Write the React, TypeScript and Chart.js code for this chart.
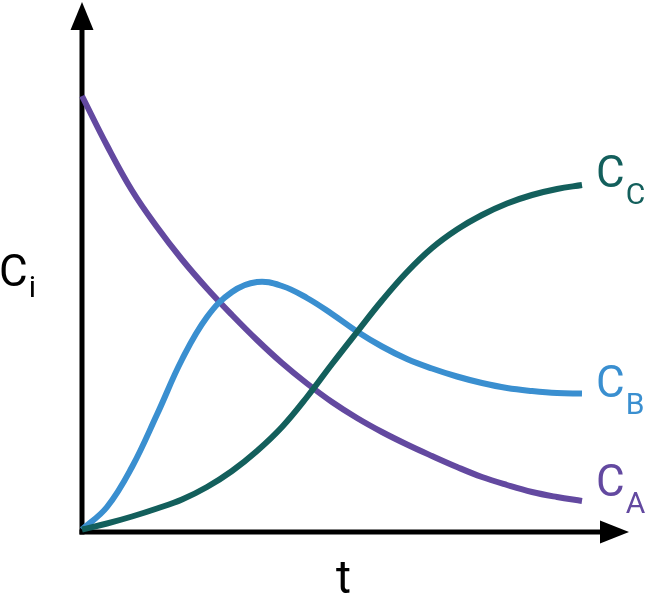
import React, { useEffect, useRef } from "react";
import { Chart, registerables } from "chart.js";

Chart.register(...registerables);

const times = [0, 0.5, 1, 1.5, 2, 2.5, 3, 3.5, 4, 4.5, 5, 5.5, 6, 6.5, 7, 7.5, 8, 8.5, 9, 9.5, 10];
const cA = [8.72, 7.73, 6.83, 6.1, 5.45, 4.87, 4.34, 3.84, 3.38, 2.97, 2.6, 2.28, 2.0, 1.75, 1.52, 1.3, 1.1, 0.94, 0.8, 0.7, 0.62];
const cB = [0.05, 0.5, 1.3, 2.35, 3.45, 4.3, 4.8, 5.0, 4.92, 4.68, 4.36, 4.01, 3.71, 3.46, 3.27, 3.11, 2.98, 2.88, 2.82, 2.78, 2.77];
const cC = [0.05, 0.17, 0.31, 0.47, 0.65, 0.9, 1.22, 1.62, 2.1, 2.7, 3.36, 4.0, 4.63, 5.2, 5.68, 6.05, 6.34, 6.57, 6.74, 6.86, 6.94];

const seriesNames = ["C", "C", "C"];
const seriesSubs = ["C", "B", "A"];
const colors = ["#135f5c", "#3a8fd0", "#6349a0"];
const yLabel = "C";
const yLabelSub = "i";
const xLabel = "t";

const FONT = "Roboto, 'DejaVu Sans', sans-serif";

const axesPlugin = {
  id: "arrowAxes",
  beforeDatasetsDraw(chart: any) {
    const { ctx, chartArea } = chart;
    const x0 = chartArea.left;
    const y0 = chartArea.bottom;
    ctx.save();
    ctx.strokeStyle = "#000";
    ctx.fillStyle = "#000";
    ctx.lineWidth = 5;
    ctx.lineCap = "butt";
    ctx.beginPath();
    ctx.moveTo(x0, y0 + 2.5);
    ctx.lineTo(x0, chartArea.top + 26);
    ctx.stroke();
    ctx.beginPath();
    ctx.moveTo(x0 - 2.5, y0);
    ctx.lineTo(chartArea.right - 30, y0);
    ctx.stroke();
    ctx.beginPath();
    ctx.moveTo(x0, chartArea.top);
    ctx.lineTo(x0 - 11.5, chartArea.top + 28);
    ctx.lineTo(x0 + 11.5, chartArea.top + 28);
    ctx.closePath();
    ctx.fill();
    const xr = chartArea.right - 3;
    ctx.beginPath();
    ctx.moveTo(xr, y0);
    ctx.lineTo(xr - 29, y0 - 11.5);
    ctx.lineTo(xr - 29, y0 + 11.5);
    ctx.closePath();
    ctx.fill();
    ctx.restore();
  },
  afterDraw(chart: any) {
    const { ctx, chartArea } = chart;
    const xs = chart.scales.x;
    const ys = chart.scales.y;
    ctx.save();
    ctx.textAlign = "left";
    ctx.textBaseline = "alphabetic";
    const ends = [cC[cC.length - 1], cB[cB.length - 1], cA[cA.length - 1]];
    const dy = [2, 3, -5];
    const xEnd = xs.getPixelForValue(times[times.length - 1]);
    ends.forEach((v, i) => {
      const yb = ys.getPixelForValue(v) + dy[i];
      ctx.fillStyle = colors[i];
      ctx.font = `44px ${FONT}`;
      ctx.fillText(seriesNames[i], xEnd + 14, yb);
      const w = ctx.measureText(seriesNames[i]).width;
      ctx.font = `30px ${FONT}`;
      ctx.fillText(seriesSubs[i], xEnd + 14 + w + 1, yb + 17);
    });
    ctx.fillStyle = "#000";
    ctx.font = `44px ${FONT}`;
    ctx.fillText(yLabel, chartArea.left - 83, 286);
    const w2 = ctx.measureText(yLabel).width;
    ctx.font = `30px ${FONT}`;
    ctx.fillText(yLabelSub, chartArea.left - 83 + w2 + 1, 297);
    ctx.font = `46px ${FONT}`;
    ctx.fillText(xLabel, 336, 593);
    ctx.restore();
  },
};

export default function App() {
  const ref = useRef<HTMLCanvasElement>(null);
  useEffect(() => {
    const mk = (vals: number[]) => times.map((t, i) => ({ x: t, y: vals[i] }));
    const chart = new Chart(ref.current!, {
      type: "line",
      data: {
        datasets: [cC, cB, cA].map((vals, i) => ({
          label: seriesNames[i] + seriesSubs[i],
          data: mk(vals),
          borderColor: colors[i],
          borderWidth: 6,
          pointRadius: 0,
          fill: false,
          tension: 0.4,
          borderCapStyle: "butt" as const,
          clip: false as any,
        })),
      },
      options: {
        responsive: false,
        animation: false,
        events: [],
        layout: { padding: { left: 82, right: 13, top: 2, bottom: 63 } },
        plugins: { legend: { display: false }, tooltip: { enabled: false } },
        scales: {
          x: { type: "linear", min: 0, max: 11, display: false },
          y: { type: "linear", min: 0, max: 10.6, display: false },
        },
      },
      plugins: [axesPlugin],
    });
    return () => chart.destroy();
  }, []);
  return (
    <div style={{ position: "absolute", left: 0, top: 0, width: 645, height: 595, background: "#fff" }}>
      <canvas ref={ref} width={645} height={595} />
    </div>
  );
}
